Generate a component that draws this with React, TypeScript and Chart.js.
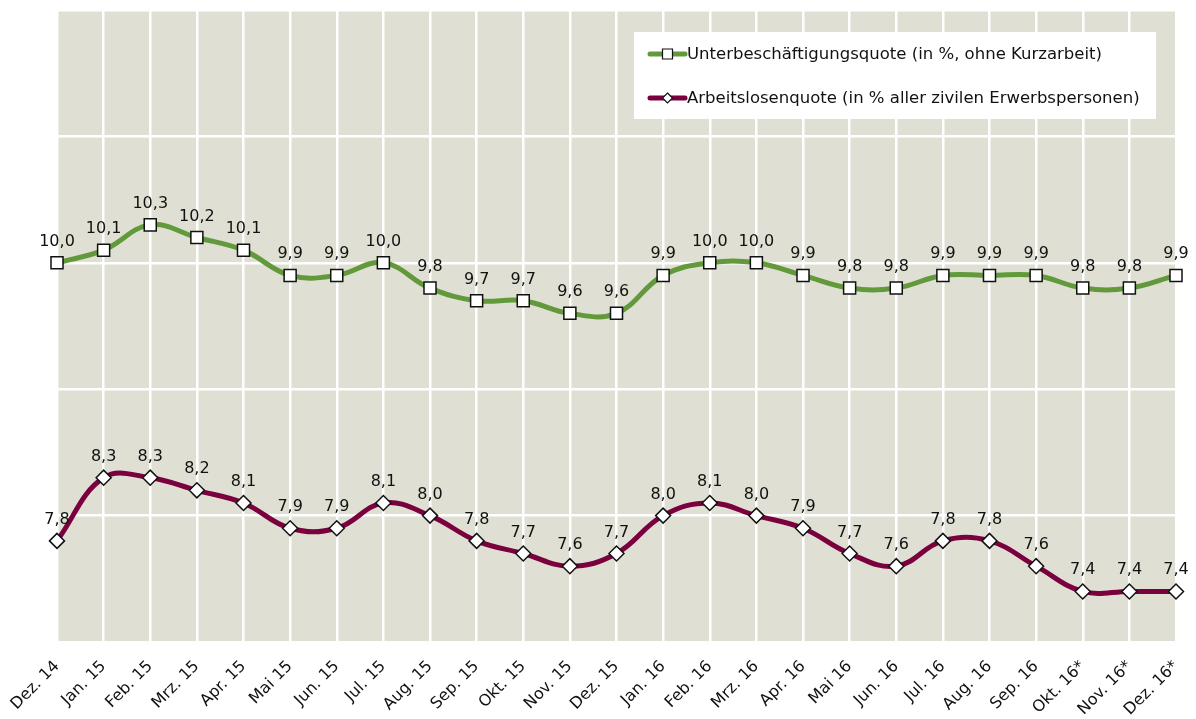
import React, { useEffect, useRef } from 'react';
import { Chart, registerables } from 'chart.js';

Chart.register(...registerables);

const categories = [
  'Dez. 14', 'Jan. 15', 'Feb. 15', 'Mrz. 15', 'Apr. 15', 'Mai 15', 'Jun. 15', 'Jul. 15',
  'Aug. 15', 'Sep. 15', 'Okt. 15', 'Nov. 15', 'Dez. 15', 'Jan. 16', 'Feb. 16', 'Mrz. 16',
  'Apr. 16', 'Mai 16', 'Jun. 16', 'Jul. 16', 'Aug. 16', 'Sep. 16', 'Okt. 16*', 'Nov. 16*', 'Dez. 16*',
];

const unterbeschaeftigungsquote = [
  10.0, 10.1, 10.3, 10.2, 10.1, 9.9, 9.9, 10.0, 9.8, 9.7, 9.7, 9.6, 9.6,
  9.9, 10.0, 10.0, 9.9, 9.8, 9.8, 9.9, 9.9, 9.9, 9.8, 9.8, 9.9,
];

const arbeitslosenquote = [
  7.8, 8.3, 8.3, 8.2, 8.1, 7.9, 7.9, 8.1, 8.0, 7.8, 7.7, 7.6, 7.7,
  8.0, 8.1, 8.0, 7.9, 7.7, 7.6, 7.8, 7.8, 7.6, 7.4, 7.4, 7.4,
];

const seriesLabels = [
  'Unterbeschäftigungsquote (in %, ohne Kurzarbeit)',
  'Arbeitslosenquote (in % aller zivilen Erwerbspersonen)',
];

const yMin = 7;
const yMax = 12;
const yStep = 1;

const FONT = 'DejaVu Sans';
const GREEN = '#62993A';
const MAROON = '#7A003E';
const PLOT_BG = '#DFE0D3';

const bgPlugin = {
  id: 'plotBg',
  beforeDraw(chart: any) {
    const { ctx, chartArea } = chart;
    ctx.save();
    ctx.fillStyle = PLOT_BG;
    ctx.fillRect(chartArea.left, chartArea.top, chartArea.right - chartArea.left, chartArea.bottom - chartArea.top);
    ctx.restore();
  },
};

const valueLabelPlugin = {
  id: 'valueLabels',
  afterDatasetsDraw(chart: any) {
    const { ctx } = chart;
    ctx.save();
    ctx.font = `16px "${FONT}"`;
    ctx.fillStyle = '#111';
    ctx.textAlign = 'center';
    ctx.textBaseline = 'alphabetic';
    chart.data.datasets.forEach((ds: any, di: number) => {
      const meta = chart.getDatasetMeta(di);
      meta.data.forEach((pt: any, i: number) => {
        const v = ds.data[i];
        ctx.fillText(v.toFixed(1).replace('.', ','), pt.x, pt.y - 17);
      });
    });
    ctx.restore();
  },
};

const legendPlugin = {
  id: 'boxLegend',
  afterDraw(chart: any) {
    const { ctx, chartArea } = chart;
    const boxRight = chartArea.right - 20;
    const boxLeft = boxRight - 522;
    const boxTop = chartArea.top + 22;
    const boxH = 87;
    ctx.save();
    ctx.fillStyle = '#FFFFFF';
    ctx.fillRect(boxLeft, boxTop, boxRight - boxLeft, boxH);
    ctx.font = `16.5px "${FONT}"`;
    ctx.textBaseline = 'middle';
    ctx.textAlign = 'left';
    chart.data.datasets.forEach((ds: any, i: number) => {
      const cy = boxTop + 22 + i * 44;
      const lx0 = boxLeft + 16;
      const lx1 = boxLeft + 51;
      ctx.strokeStyle = ds.borderColor;
      ctx.lineWidth = 5;
      ctx.lineCap = 'round';
      ctx.beginPath();
      ctx.moveTo(lx0, cy);
      ctx.lineTo(lx1, cy);
      ctx.stroke();
      const mx = (lx0 + lx1) / 2;
      ctx.fillStyle = '#fff';
      ctx.strokeStyle = '#111';
      ctx.lineWidth = 1.2;
      ctx.beginPath();
      if (ds.pointStyle === 'rect') {
        ctx.rect(mx - 5, cy - 5, 10, 10);
      } else {
        ctx.moveTo(mx, cy - 5);
        ctx.lineTo(mx + 5, cy);
        ctx.lineTo(mx, cy + 5);
        ctx.lineTo(mx - 5, cy);
        ctx.closePath();
      }
      ctx.fill();
      ctx.stroke();
      ctx.fillStyle = '#111';
      ctx.fillText(ds.label, lx1 + 2, cy + 1);
    });
    ctx.restore();
  },
};

export default function App() {
  const canvasRef = useRef<HTMLCanvasElement | null>(null);

  useEffect(() => {
    const canvas = canvasRef.current;
    if (!canvas) return;
    const chart = new Chart(canvas, {
      type: 'line',
      data: {
        labels: categories,
        datasets: [
          {
            label: seriesLabels[0],
            data: unterbeschaeftigungsquote,
            borderColor: GREEN,
            backgroundColor: GREEN,
            borderWidth: 5,
            tension: 0.4,
            pointStyle: 'rect',
            pointRadius: 8.5,
            pointBackgroundColor: '#FFFFFF',
            pointBorderColor: '#111111',
            pointBorderWidth: 1.5,
            fill: false,
          },
          {
            label: seriesLabels[1],
            data: arbeitslosenquote,
            borderColor: MAROON,
            backgroundColor: MAROON,
            borderWidth: 5,
            tension: 0.4,
            pointStyle: 'rectRot',
            pointRadius: 7.5,
            pointBackgroundColor: '#FFFFFF',
            pointBorderColor: '#111111',
            pointBorderWidth: 1.5,
            fill: false,
          },
        ],
      },
      options: {
        animation: false,
        responsive: false,
        layout: { padding: { left: 57, right: 20, top: 6, bottom: 0 } },
        plugins: {
          legend: { display: false },
          tooltip: { enabled: false },
        },
        scales: {
          x: {
            type: 'category',
            offset: false,
            grid: { color: '#FFFFFF', lineWidth: 2.5, drawTicks: false },
            border: { display: false },
            ticks: {
              autoSkip: false,
              maxRotation: 45,
              minRotation: 45,
              padding: 15,
              color: '#111',
              font: { family: FONT, size: 16 },
            },
            afterFit: (s: any) => {
              s.height = 77;
              s.paddingLeft = 0;
              s.paddingRight = 0;
            },
          },
          y: {
            min: yMin,
            max: yMax,
            grid: { color: '#FFFFFF', lineWidth: 2.5, drawTicks: false },
            border: { display: false },
            ticks: { display: false, stepSize: yStep },
            afterFit: (s: any) => {
              s.width = 0;
              s.paddingTop = 0;
              s.paddingBottom = 0;
            },
          },
        },
      },
      plugins: [bgPlugin, valueLabelPlugin, legendPlugin],
    });
    return () => chart.destroy();
  }, []);

  return (
    <div style={{ position: 'fixed', left: 0, top: 0, width: 1196, height: 719, background: '#fff' }}>
      <canvas ref={canvasRef} width={1196} height={719} style={{ display: 'block' }} />
    </div>
  );
}
